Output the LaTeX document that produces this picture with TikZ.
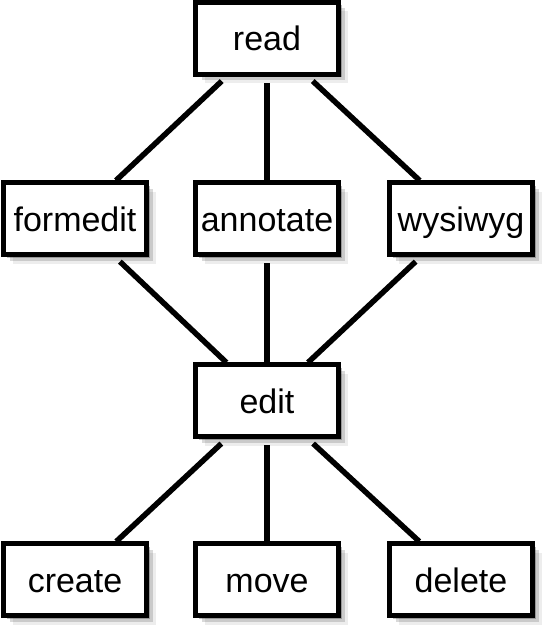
\documentclass[tikz,border=0pt]{standalone}
\usepackage{fontspec}
\setmainfont{Liberation Sans}
\usetikzlibrary{shadows}
\tikzset{%
  rolebox/.style={rectangle,draw=black,fill=white,line width=5pt,
    minimum width=143pt,minimum height=72pt,inner sep=2pt,
    text height=24.5pt,text depth=0pt,
    font=\fontsize{34}{40}\selectfont,
    drop shadow={shadow xshift=3pt,shadow yshift=-3pt,opacity=0.25,fill=black},
    drop shadow={shadow xshift=6pt,shadow yshift=-6pt,opacity=0.15,fill=black},
    drop shadow={shadow xshift=9pt,shadow yshift=-9pt,opacity=0.07,fill=black}},
  link/.style={line width=5.5pt,shorten <=6pt}
}
\begin{document}
\begin{tikzpicture}[x=1pt,y=1pt]
% geometry
\def\W{541}   % total width
\def\H{626}   % total height
\def\cl{75}   % left column
\def\cm{267}  % middle column
\def\cr{461}  % right column

\useasboundingbox (0,0) rectangle (\W,\H);

% ---- rows of boxes ----
\node[rolebox] (read)     at (\cm,587.5) {read};

\node[rolebox] (formedit) at (\cl,407)   {formedit};
\node[rolebox] (annotate) at (\cm,407)   {annotate};
\node[rolebox] (wysiwyg)  at (\cr,407)   {wysiwyg};

\node[rolebox] (edit)     at (\cm,225)   {edit};

\node[rolebox] (create)   at (\cl,46)    {create};
\node[rolebox] (move)     at (\cm,46)    {move};
\node[rolebox] (delete)   at (\cr,46)    {delete};

% ---- links ----
\foreach \child in {formedit,annotate,wysiwyg}{
  \draw[link] (read) -- (\child);
  \draw[link] (\child) -- (edit);
}
\foreach \child in {create,move,delete}
  \draw[link] (edit) -- (\child);

\end{tikzpicture}
\end{document}
